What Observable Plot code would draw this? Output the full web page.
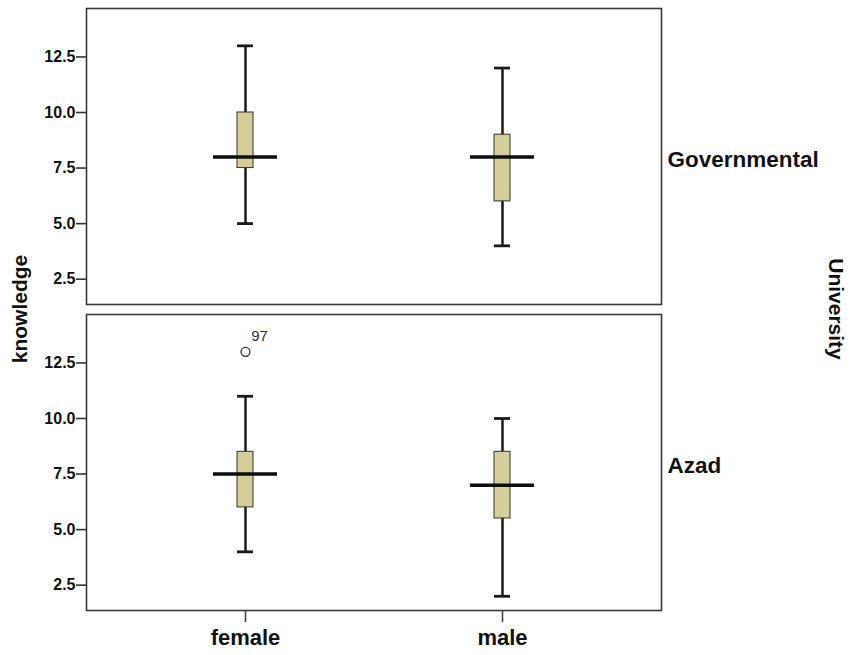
<!DOCTYPE html>
<html>
<head>
<meta charset="utf-8">
<script src="https://cdn.jsdelivr.net/npm/d3@7"></script>
<script src="https://cdn.jsdelivr.net/npm/@observablehq/plot@0.6"></script>
<style>
  html, body { margin: 0; padding: 0; background: #fff; }
  #chart { width: 852px; height: 655px; }
</style>
</head>
<body>
<div id="chart"></div>
<script>
// Facet (University) and category (gender) for each box
const universities = ["Governmental", "Governmental", "Azad", "Azad"];
const genders = ["female", "male", "female", "male"];
// Box summaries
const whiskerLow = [5, 4, 4, 2];
const quartile1 = [7.5, 6, 6, 5.5];
const medians = [8, 8, 7.5, 7];
const quartile3 = [10, 9, 8.5, 8.5];
const whiskerHigh = [13, 12, 11, 10];
// Outliers
const outlierUniversity = ["Azad"];
const outlierGender = ["female"];
const outlierValue = [13];
const outlierLabel = ["97"];
// Axis ticks
const yTicks = [2.5, 5, 7.5, 10, 12.5];
const universityOrder = ["Governmental", "Azad"];
const genderOrder = ["female", "male"];

const rows = genders.map((g, i) => ({
  University: universities[i], gender: g,
  lo: whiskerLow[i], q1: quartile1[i], med: medians[i], q3: quartile3[i], hi: whiskerHigh[i]
}));
const outliers = outlierValue.map((v, i) => ({
  University: outlierUniversity[i], gender: outlierGender[i], value: v, label: outlierLabel[i]
}));

const font = "'Liberation Sans', Arial, Helvetica, sans-serif";
const boxInset = 91, medInset = 67;

const chart = Plot.plot({
  width: 852,
  height: 655,
  marginLeft: 86,
  marginRight: 191,
  marginTop: 8,
  marginBottom: 45,
  style: { fontFamily: font, color: "#111", background: "#fff" },
  x: { type: "band", domain: genderOrder, padding: 0.2287, axis: null },
  y: { domain: [1.36, 14.68], axis: null },
  fy: { domain: universityOrder, paddingInner: 0.0327, paddingOuter: 0, axis: null },
  marks: [
    Plot.frame({ stroke: "#3a3a3a", strokeWidth: 1.6 }),
    Plot.axisY({ ticks: yTicks, tickFormat: d3.format(".1f"), tickSize: 10, tickPadding: 1,
      fontSize: 16, fontWeight: "bold", strokeWidth: 1.6, stroke: "#333", label: null }),
    Plot.axisX({ tickSize: 12, tickPadding: 7, fontSize: 22, fontWeight: "bold",
      strokeWidth: 1.6, stroke: "#444", label: null }),
    Plot.axisFy({ anchor: "right", tickSize: 0, tickPadding: 6, fontSize: 22.5, fontWeight: "bold",
      label: null, dy: 3 }),
    Plot.ruleX(rows, { x: "gender", y1: "lo", y2: "q1", fy: "University", stroke: "#1a1a1a", strokeWidth: 2.5 }),
    Plot.ruleX(rows, { x: "gender", y1: "q3", y2: "hi", fy: "University", stroke: "#1a1a1a", strokeWidth: 2.5 }),
    Plot.tickY(rows, { x: "gender", y: "lo", fy: "University", stroke: "#1a1a1a", strokeWidth: 2.8,
      insetLeft: boxInset, insetRight: boxInset }),
    Plot.tickY(rows, { x: "gender", y: "hi", fy: "University", stroke: "#1a1a1a", strokeWidth: 2.8,
      insetLeft: boxInset, insetRight: boxInset }),
    Plot.barY(rows, { x: "gender", y1: "q1", y2: "q3", fy: "University", fill: "#d4cf98",
      stroke: "#333", strokeWidth: 1, insetLeft: boxInset, insetRight: boxInset }),
    Plot.tickY(rows, { x: "gender", y: "med", fy: "University", stroke: "#0d0d0d", strokeWidth: 3.5,
      insetLeft: medInset, insetRight: medInset }),
    Plot.dot(outliers, { x: "gender", y: "value", fy: "University", r: 4.5, fill: "#fff",
      stroke: "#333", strokeWidth: 1.3 }),
    Plot.text(outliers, { x: "gender", y: "value", fy: "University", text: "label", dx: 14, dy: -16,
      fontSize: 15, fill: "#333" })
  ]
});

document.getElementById("chart").appendChild(chart);

// Axis titles spanning both facets
const svg = d3.select(chart.tagName.toLowerCase() === "svg" ? chart : chart.querySelector("svg"));
const midY = 309;
svg.append("text")
  .attr("transform", `translate(27,${midY}) rotate(-90)`)
  .attr("text-anchor", "middle")
  .attr("font-family", font)
  .attr("font-size", 21)
  .attr("font-weight", "bold")
  .attr("fill", "#111")
  .text("knowledge");
svg.append("text")
  .attr("transform", `translate(829,${midY}) rotate(90)`)
  .attr("text-anchor", "middle")
  .attr("font-family", font)
  .attr("font-size", 21)
  .attr("font-weight", "bold")
  .attr("fill", "#111")
  .text("University");
</script>
</body>
</html>
